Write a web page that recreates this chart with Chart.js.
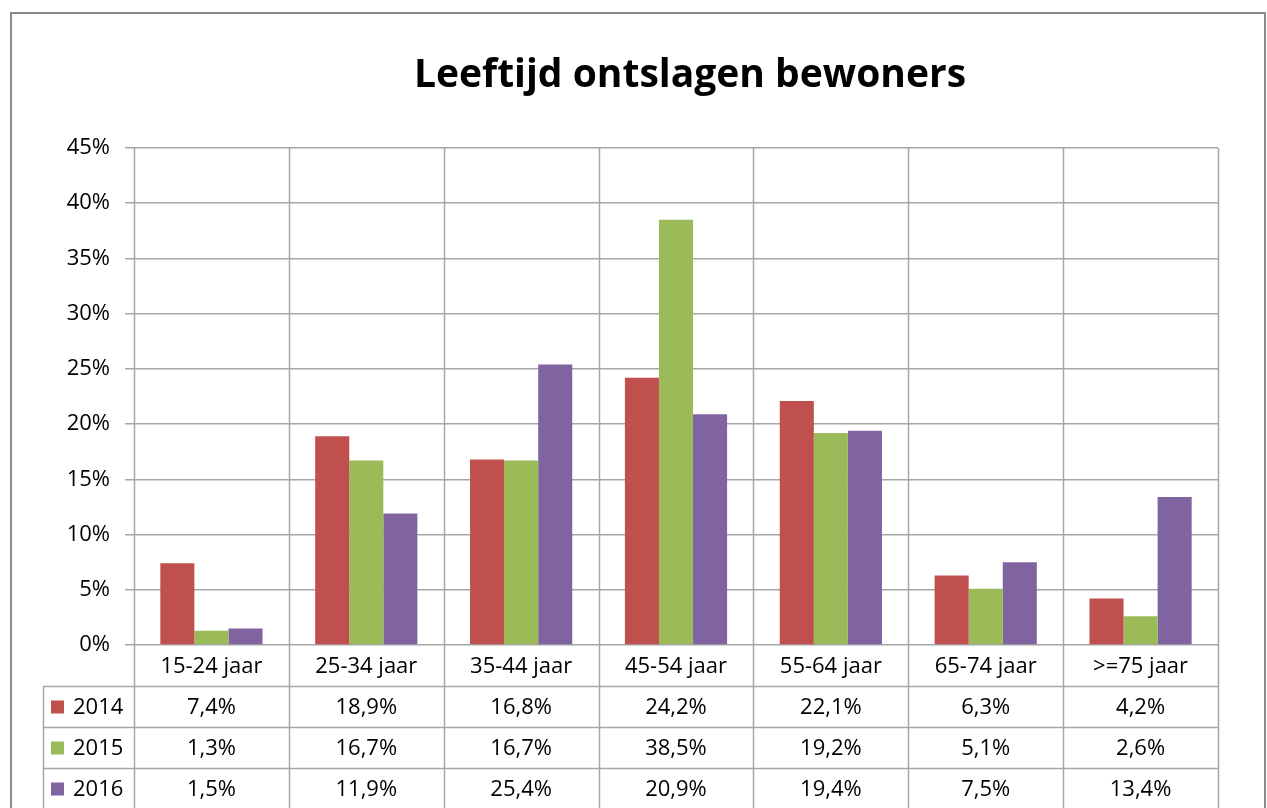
<!DOCTYPE html>
<html>
<head>
<meta charset="utf-8">
<script src="https://cdn.jsdelivr.net/npm/chart.js@4"></script>
<style>
  body { margin: 0; background: #fff; }
  #wrap { width: 1267px; height: 808px; }
</style>
</head>
<body>
<div id="wrap"><canvas id="chart" width="1267" height="808"></canvas></div>
<script>
// ===== Data =====
const categories = ["15-24 jaar", "25-34 jaar", "35-44 jaar", "45-54 jaar", "55-64 jaar", "65-74 jaar", ">=75 jaar"];
const years = ["2014", "2015", "2016"];
const values2014 = [7.4, 18.9, 16.8, 24.2, 22.1, 6.3, 4.2];
const values2015 = [1.3, 16.7, 16.7, 38.5, 19.2, 5.1, 2.6];
const values2016 = [1.5, 11.9, 25.4, 20.9, 19.4, 7.5, 13.4];
const colors = ["#C0504D", "#9BBB59", "#8064A2"];
const chartTitle = "Leeftijd ontslagen bewoners";

const FONT = "'Open Sans', 'Liberation Sans', sans-serif";
const gridColor = "#A6A6A6";

// format 7.4 -> "7,4%"
function pct(v) {
    return v.toFixed(1).replace(".", ",") + "%";
}

// ===== Plugin: title, category labels, data table, outer border =====
const tablePlugin = {
    id: "dataTable",
    afterDraw(chart) {
        const ctx = chart.ctx;
        const area = chart.chartArea;
        const xs = chart.scales.x;
        const rowH = 41;
        const tableLeft = 43;
        const bottom = chart.height + 5;
        const rowsTop = area.bottom + rowH;
        const n = categories.length;
        const step = (area.right - area.left) / n;

        ctx.save();

        // title
        ctx.fillStyle = "#000";
        ctx.font = "bold 39px " + FONT;
        ctx.textAlign = "center";
        ctx.textBaseline = "alphabetic";
        ctx.fillText(chartTitle, 690, 87);

        ctx.strokeStyle = gridColor;
        ctx.lineWidth = 1.5;

        // vertical lines through plot and table
        for (let i = 0; i <= n; i++) {
            const x = Math.round(area.left + step * i) + 0.5;
            ctx.beginPath();
            ctx.moveTo(x, area.top);
            ctx.lineTo(x, bottom);
            ctx.stroke();
        }
        // table left edge
        ctx.beginPath();
        ctx.moveTo(tableLeft + 0.5, rowsTop);
        ctx.lineTo(tableLeft + 0.5, bottom);
        ctx.stroke();
        // horizontal table lines
        for (let r = 0; r < years.length; r++) {
            const y = Math.round(rowsTop + rowH * r) + 0.5;
            ctx.beginPath();
            ctx.moveTo(tableLeft, y);
            ctx.lineTo(area.right, y);
            ctx.stroke();
        }

        // category labels
        ctx.fillStyle = "#000";
        ctx.font = "22px " + FONT;
        ctx.textAlign = "center";
        ctx.textBaseline = "middle";
        categories.forEach((c, i) => {
            ctx.fillText(c, xs.getPixelForValue(i), area.bottom + rowH / 2 + 1);
        });

        // table rows
        chart.data.datasets.forEach((ds, r) => {
            const yMid = rowsTop + rowH * r + rowH / 2 + 1;
            ctx.fillStyle = ds.backgroundColor;
            ctx.fillRect(51, yMid - 7, 13, 13);
            ctx.fillStyle = "#000";
            ctx.textAlign = "left";
            ctx.fillText(ds.label, 73, yMid);
            ctx.textAlign = "center";
            ds.data.forEach((v, i) => {
                ctx.fillText(pct(v), xs.getPixelForValue(i), yMid);
            });
        });

        // outer chart border
        ctx.strokeStyle = "#8C8C8C";
        ctx.lineWidth = 2;
        ctx.strokeRect(11, 13, 1254, chart.height + 20);
        ctx.restore();
    }
};

const seriesValues = [values2014, values2015, values2016];

new Chart(document.getElementById("chart"), {
    type: "bar",
    data: {
        labels: categories,
        datasets: years.map((y, i) => ({
            label: y,
            data: seriesValues[i],
            backgroundColor: colors[i],
            categoryPercentage: 0.66,
            barPercentage: 1.0
        }))
    },
    options: {
        responsive: false,
        animation: false,
        devicePixelRatio: 1,
        layout: { padding: { left: 10, right: 49, top: 148, bottom: 0 } },
        plugins: {
            legend: { display: false },
            tooltip: { enabled: false },
            title: { display: false }
        },
        scales: {
            x: {
                grid: { display: false },
                border: { display: false },
                ticks: { display: false },
                afterFit: scale => { scale.height = 163; }
            },
            y: {
                min: 0,
                max: 45,
                ticks: {
                    stepSize: 5,
                    color: "#000",
                    padding: 15,
                    font: { family: FONT, size: 22 },
                    callback: v => v + "%"
                },
                grid: { color: gridColor, lineWidth: 1.5, tickLength: 9 },
                border: { display: false },
                afterFit: scale => { scale.width = 124; }
            }
        }
    },
    plugins: [tablePlugin]
});
</script>
</body>
</html>
